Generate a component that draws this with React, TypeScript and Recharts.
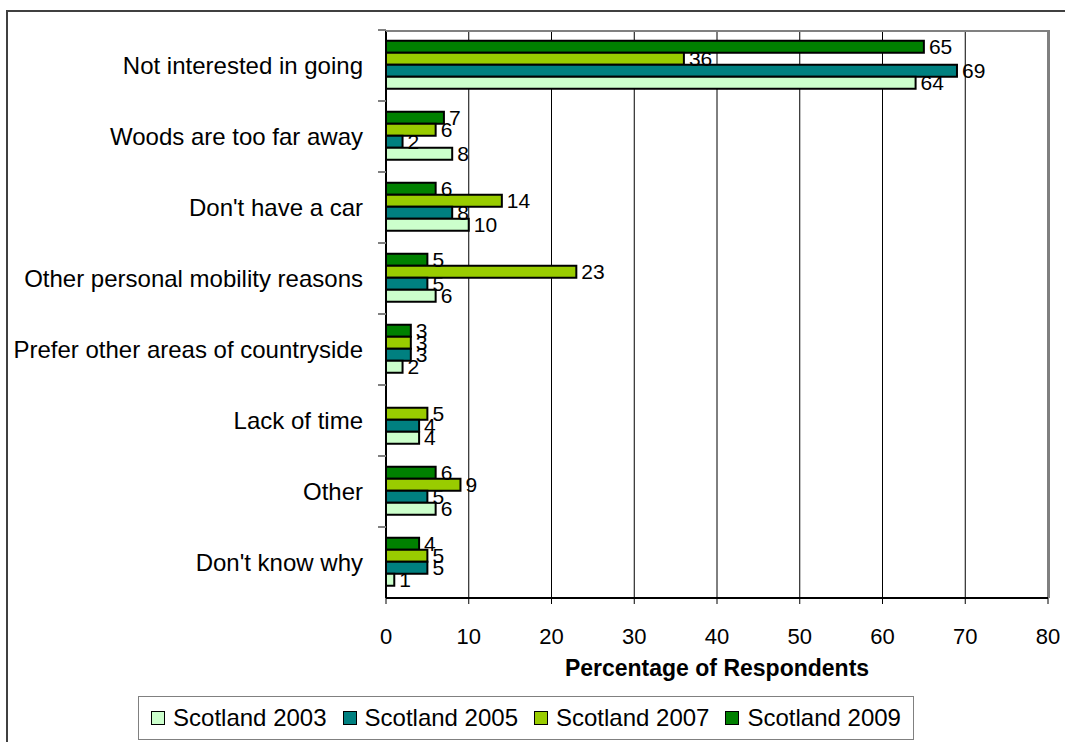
import { BarChart, Bar, XAxis, YAxis, CartesianGrid, LabelList } from "recharts";

const categories = [
  "Not interested in going",
  "Woods are too far away",
  "Don't have a car",
  "Other personal mobility reasons",
  "Prefer other areas of countryside",
  "Lack of time",
  "Other",
  "Don't know why",
];

const scotland2003 = [64, 8, 10, 6, 2, 4, 6, 1];
const scotland2005 = [69, 2, 8, 5, 3, 4, 5, 5];
const scotland2007 = [36, 6, 14, 23, 3, 5, 9, 5];
const scotland2009 = [65, 7, 6, 5, 3, null, 6, 4];

const xTicks = [0, 10, 20, 30, 40, 50, 60, 70, 80];

const series = [
  { key: "s2003", name: "Scotland 2003", color: "#CCFFCC" },
  { key: "s2005", name: "Scotland 2005", color: "#008080" },
  { key: "s2007", name: "Scotland 2007", color: "#99CC00" },
  { key: "s2009", name: "Scotland 2009", color: "#008000" },
];

const data = categories.map((name, i) => ({
  name,
  s2003: scotland2003[i],
  s2005: scotland2005[i],
  s2007: scotland2007[i],
  s2009: scotland2009[i],
}));

const FONT = "'Liberation Sans', Arial, sans-serif";
const PLOT_TOP = 30;
const PLOT_BOTTOM = 598;
const PLOT_LEFT = 386;
const PLOT_RIGHT = 1048;
const BAND = (PLOT_BOTTOM - PLOT_TOP) / categories.length;

// category label + excel-style tick mark between categories
const CategoryTick = ({ x, y, payload }: any) => (
  <g>
    <text x={x - 23} y={y} dy="0.35em" textAnchor="end" fontSize={24} fill="#000" fontFamily={FONT}>
      {payload.value}
    </text>
    <line x1={x - 8} x2={x} y1={y - BAND / 2} y2={y - BAND / 2} stroke="#808080" strokeWidth={2} />
  </g>
);

export default function App() {
  // bars drawn top to bottom: 2009, 2007, 2005, 2003
  const drawOrder = [...series].reverse();
  return (
    <div style={{ position: "fixed", left: 0, top: 0, width: 1065, height: 742, overflow: "hidden", background: "#fff", fontFamily: FONT }}>
      <div style={{ position: "absolute", left: 6, top: 10, width: 1200, height: 900, border: "2px solid #404040", boxSizing: "border-box" }} />
      <BarChart
        width={1065}
        height={742}
        data={data}
        layout="vertical"
        margin={{ top: PLOT_TOP, right: 1065 - PLOT_RIGHT, bottom: 54, left: 0 }}
        barCategoryGap="15%"
        barGap={0}
        style={{ position: "absolute", left: 0, top: 0 }}
      >
        <CartesianGrid horizontal={false} vertical stroke="#000" strokeWidth={1} />
        <XAxis
          type="number"
          domain={[0, 80]}
          ticks={xTicks}
          interval={0}
          height={90}
          tickSize={6}
          tickMargin={24}
          axisLine={{ stroke: "#000", strokeWidth: 2 }}
          tickLine={{ stroke: "#000" }}
          tick={{ fontSize: 22, fill: "#000", fontFamily: FONT }}
          label={{ value: "Percentage of Respondents", position: "insideBottom", offset: 12, fontSize: 23, fontWeight: "bold", fill: "#000", fontFamily: FONT }}
        />
        <YAxis
          type="category"
          dataKey="name"
          width={PLOT_LEFT}
          tickSize={0}
          tickMargin={0}
          interval={0}
          axisLine={{ stroke: "#000", strokeWidth: 2 }}
          tick={<CategoryTick />}
        />
        {drawOrder.map((s) => (
          <Bar key={s.key} dataKey={s.key} name={s.name} fill={s.color} stroke="#000" strokeWidth={2} isAnimationActive={false}>
            <LabelList dataKey={s.key} position="right" offset={5} fill="#000" fontSize={21} fontFamily={FONT} />
          </Bar>
        ))}
      </BarChart>
      <div
        style={{
          position: "absolute",
          left: PLOT_LEFT,
          top: PLOT_TOP,
          width: PLOT_RIGHT - PLOT_LEFT,
          height: 2,
          background: "#808080",
          pointerEvents: "none",
        }}
      />
      <div
        style={{
          position: "absolute",
          left: PLOT_RIGHT,
          top: PLOT_TOP,
          width: 2,
          height: PLOT_BOTTOM - PLOT_TOP,
          background: "#808080",
          pointerEvents: "none",
        }}
      />
      <div
        style={{
          position: "absolute",
          left: 138,
          top: 696,
          width: 776,
          height: 44,
          border: "1px solid #808080",
          boxSizing: "border-box",
          display: "flex",
          alignItems: "center",
          justifyContent: "center",
          gap: 16,
          fontSize: 24,
          color: "#000",
        }}
      >
        {series.map((s) => (
          <span key={s.key} style={{ display: "inline-flex", alignItems: "center" }}>
            <span style={{ width: 12, height: 12, background: s.color, border: "1.5px solid #000", marginRight: 8, display: "inline-block" }} />
            {s.name}
          </span>
        ))}
      </div>
    </div>
  );
}
